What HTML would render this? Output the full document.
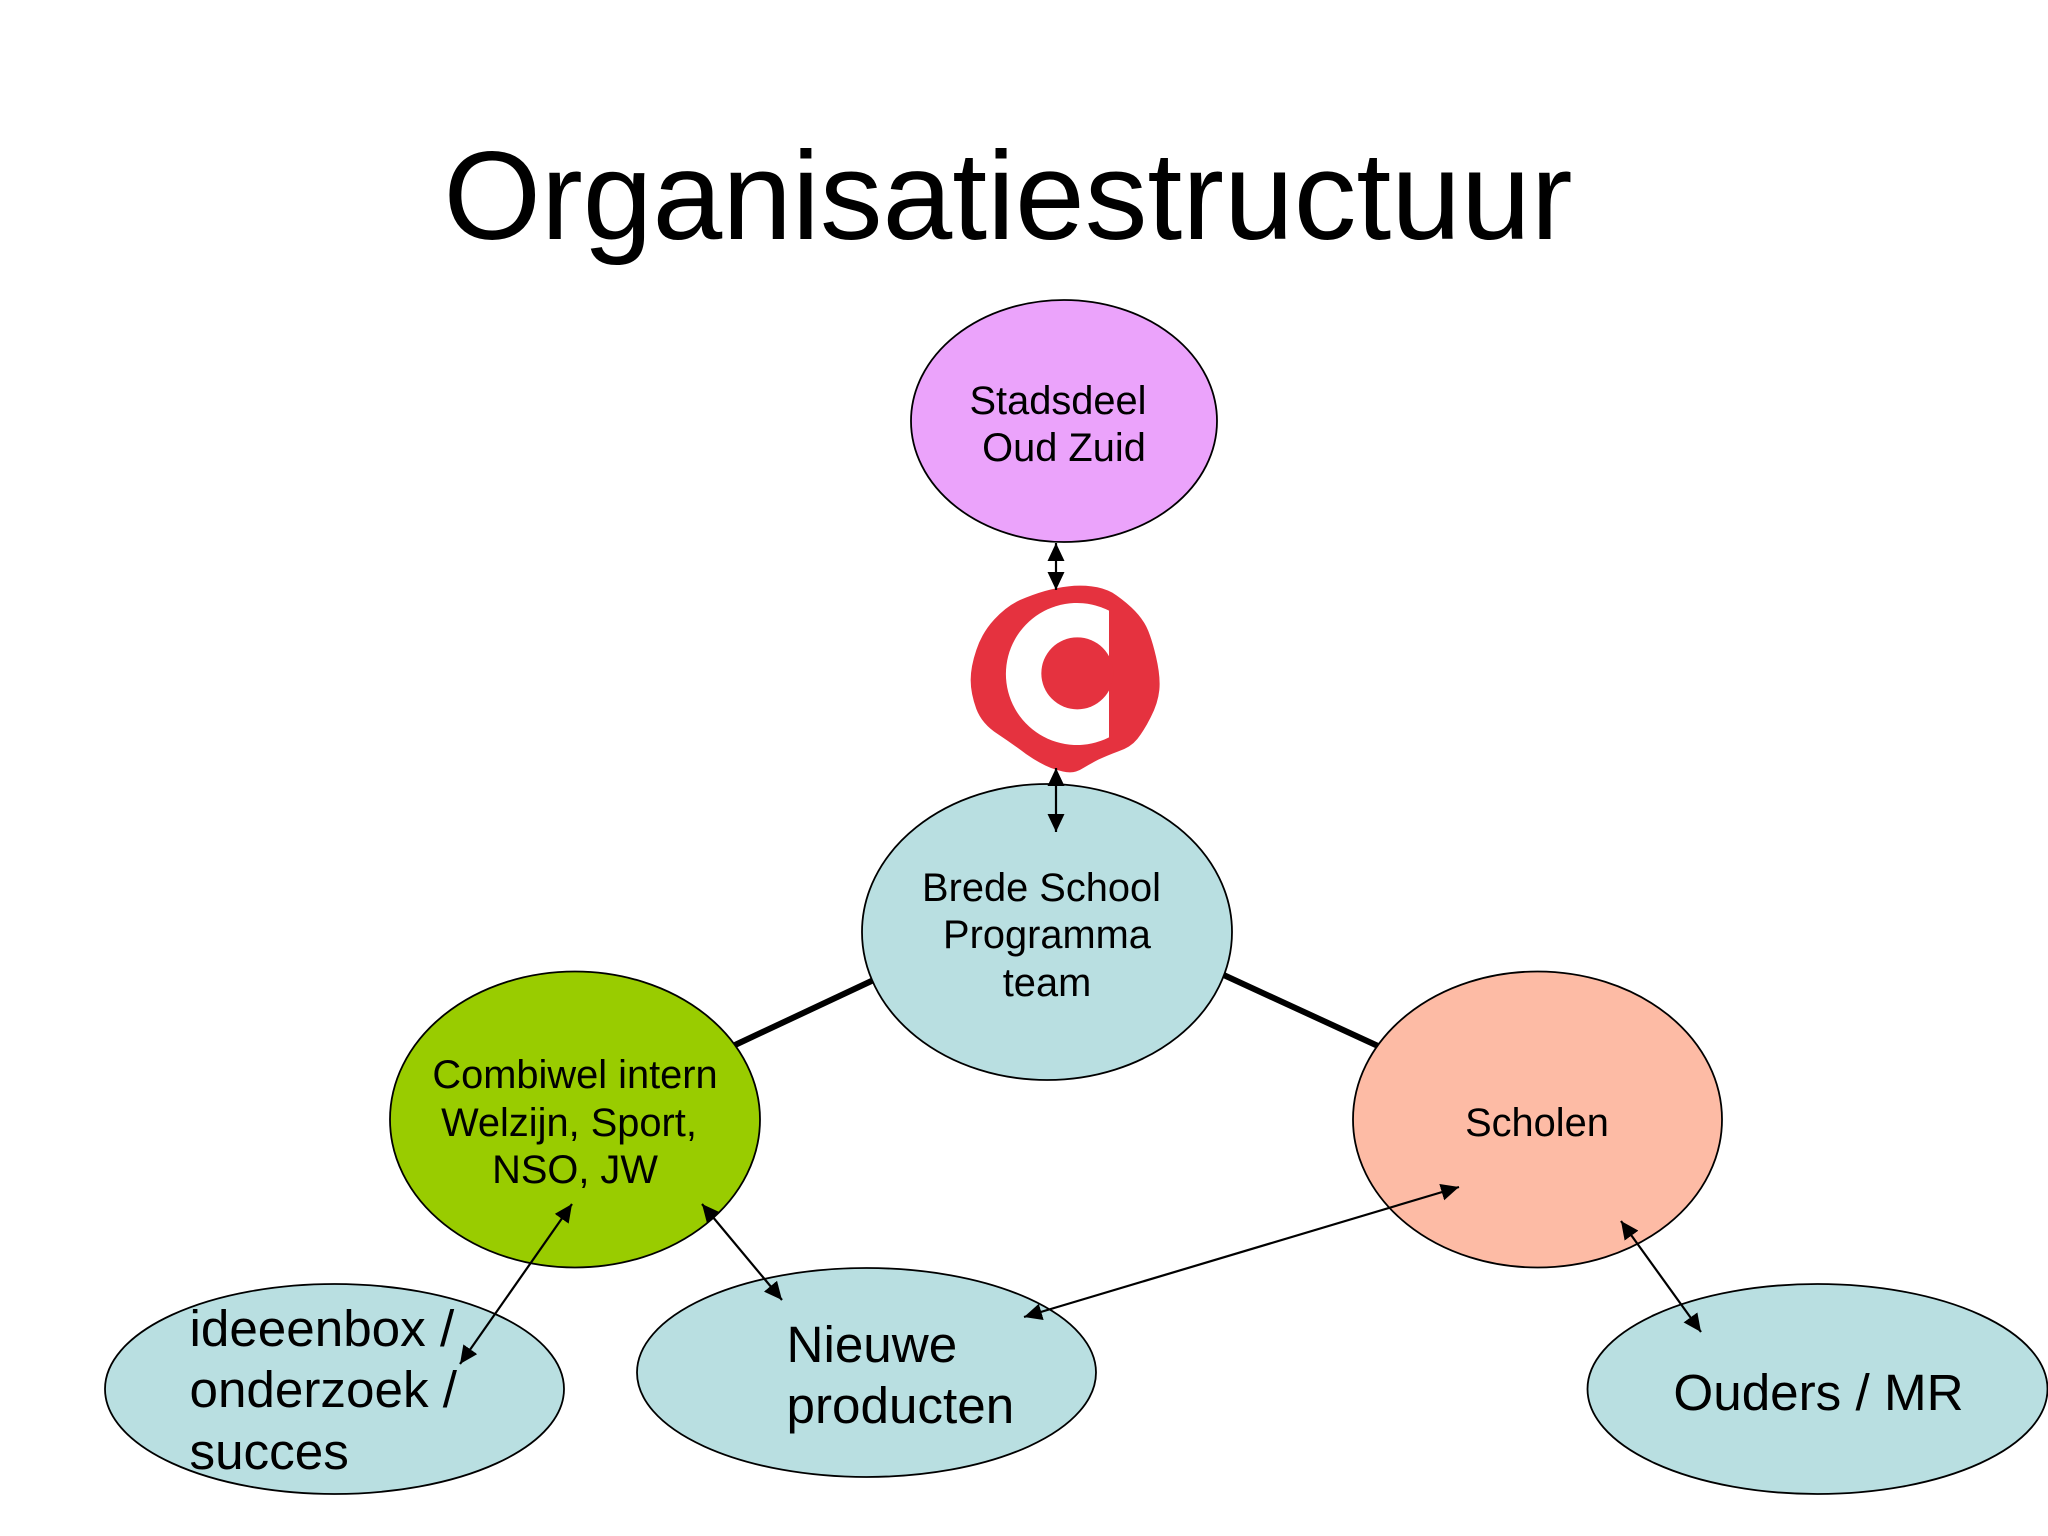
<!DOCTYPE html>
<html lang="nl">
<head>
<meta charset="utf-8">
<title>Organisatiestructuur</title>
<style>
html,body{margin:0;padding:0;background:#fff;width:2048px;height:1536px;overflow:hidden}
svg{display:block}
text{font-family:"Liberation Sans",Arial,sans-serif;fill:#000}
.s{font-size:39.8px;text-anchor:middle}
.b{font-size:51.2px}
</style>
</head>
<body>
<svg width="2048" height="1536" viewBox="0 0 2048 1536" xmlns="http://www.w3.org/2000/svg">
<defs>
<marker id="a" markerUnits="userSpaceOnUse" markerWidth="19" markerHeight="18" refX="18" refY="8.5" orient="auto-start-reverse">
<path d="M0,0 L18,8.5 L0,17 Z" fill="#000"/>
</marker>
</defs>
<rect width="2048" height="1536" fill="#fff"/>
<text x="1008" y="239" font-size="125.4" text-anchor="middle">Organisatiestructuur</text>

<line x1="735" y1="1045" x2="880" y2="977" stroke="#000" stroke-width="6"/>
<line x1="1215" y1="971" x2="1378" y2="1046" stroke="#000" stroke-width="6"/>

<g stroke="#000" stroke-width="1.8">
<ellipse cx="1064" cy="421" rx="153" ry="121" fill="#EBA3FB"/>
<ellipse cx="1047" cy="932" rx="185" ry="148" fill="#B9DFE1"/>
<ellipse cx="575" cy="1119.5" rx="185" ry="148" fill="#99CC00"/>
<ellipse cx="1537.5" cy="1119.5" rx="184.5" ry="148" fill="#FDBBA5"/>
<ellipse cx="334.5" cy="1389" rx="229.5" ry="105" fill="#B9DFE1"/>
<ellipse cx="866.5" cy="1372.5" rx="229.5" ry="104.5" fill="#B9DFE1"/>
<ellipse cx="1817.5" cy="1389" rx="230" ry="105" fill="#B9DFE1"/>
</g>

<g transform="translate(900 520) scale(0.33333)">
<path fill="#E5323F" d="M435,213 Q470,203 505,199 Q540,195 575,199 Q610,203 637,218 Q664,235 694,262 Q724,290 739,320 Q754,350 768,410 Q782,470 778,510 Q774,550 752,592 Q732,632 712,657 Q692,682 655,694 Q620,707 595,719 Q570,732 550,744 Q530,757 510,757 Q490,757 453,744 Q418,730 378,702 Q338,672 293,642 Q246,612 229,567 Q212,520 212,480 Q212,440 229,390 Q246,338 283,298 Q320,258 360,240 Q400,223 435,213 Z"/>
<path fill="#fff" d="M627,272 A213,213 0 1 0 627,652 Z"/>
<circle cx="532" cy="460" r="108" fill="#E5323F"/>
</g>

<text class="s" x="1058" y="414">Stadsdeel</text>
<text class="s" x="1064" y="461">Oud Zuid</text>
<text class="s" x="1041.5" y="901">Brede School</text>
<text class="s" x="1047" y="948">Programma</text>
<text class="s" x="1047" y="996">team</text>
<text class="s" x="575" y="1088">Combiwel intern</text>
<text class="s" x="569" y="1136">Welzijn, Sport,</text>
<text class="s" x="575" y="1183">NSO, JW</text>
<text class="s" x="1537" y="1136">Scholen</text>
<text class="b" x="189.5" y="1346">ideeenbox /</text>
<text class="b" x="189.5" y="1407">onderzoek /</text>
<text class="b" x="189.5" y="1469">succes</text>
<text class="b" x="786.5" y="1362">Nieuwe</text>
<text class="b" x="786.5" y="1423">producten</text>
<text class="b" x="1818.5" y="1410" text-anchor="middle">Ouders / MR</text>

<g stroke="#000" stroke-width="2.2" fill="none">
<line x1="1056" y1="543" x2="1056" y2="590" marker-start="url(#a)" marker-end="url(#a)"/>
<line x1="1056" y1="768" x2="1056" y2="832" marker-start="url(#a)" marker-end="url(#a)"/>
<line x1="572" y1="1204" x2="460" y2="1364" marker-start="url(#a)" marker-end="url(#a)"/>
<line x1="702" y1="1204" x2="782" y2="1300" marker-start="url(#a)" marker-end="url(#a)"/>
<line x1="1459" y1="1187" x2="1024" y2="1317" marker-start="url(#a)" marker-end="url(#a)"/>
<line x1="1621" y1="1221" x2="1701" y2="1332" marker-start="url(#a)" marker-end="url(#a)"/>
</g>
</svg>
</body>
</html>
